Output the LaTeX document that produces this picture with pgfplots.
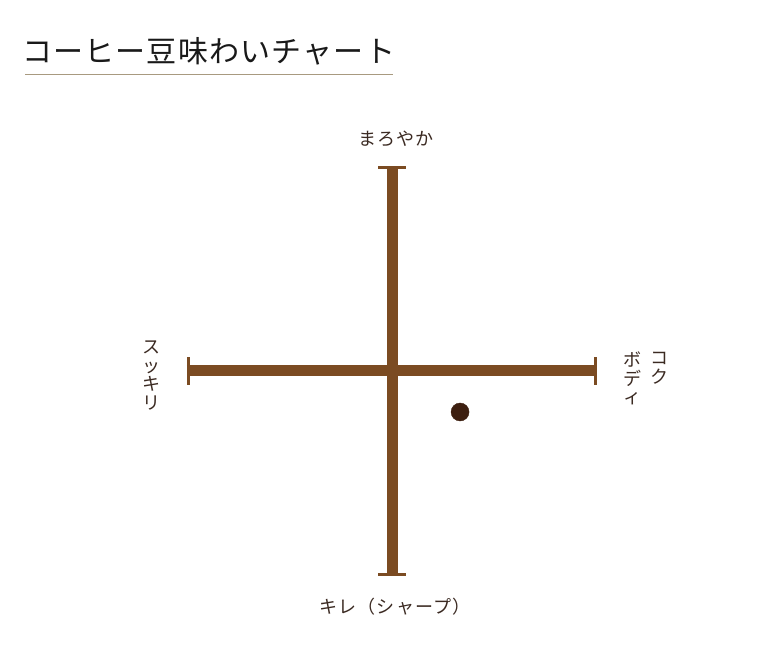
\documentclass[border=0pt]{standalone}
\usepackage{pgfplots}
\pgfplotsset{compat=1.18}
\usepackage{fontspec}
\newfontfamily\jp{Noto Sans CJK JP}
\newfontfamily\jpsp{Noto Sans CJK JP}[LetterSpace=7]
\newfontfamily\jptitle{Noto Sans CJK JP}[LetterSpace=4]
\definecolor{bean}{HTML}{7B4B22}
\definecolor{dot}{HTML}{3D1F10}
\definecolor{lbl}{HTML}{3B2A22}
\definecolor{rule}{HTML}{A89A80}
\begin{document}
\begin{tikzpicture}[x=1pt,y=1pt]
\fill[white] (0,0) rectangle (782,671);
% title
\node[anchor=west, inner sep=0pt, font=\jptitle\fontsize{30}{32}\selectfont, text=black!90] at (22,620) {コーヒー豆味わいチャート};
\draw[rule, line width=1pt] (25,596) -- (393,596);
\begin{axis}[
  at={(392pt,300pt)}, anchor=center,
  width=410pt, height=410pt, scale only axis,
  xmin=-5, xmax=5, ymin=-5, ymax=5,
  hide axis, clip=false,
]
\addplot[bean, line width=11pt, line cap=butt] coordinates {(-5,0) (5,0)};
\addplot[bean, line width=11pt, line cap=butt] coordinates {(0,-5) (0,5)};
\addplot[bean, line width=3pt] coordinates {(-0.34,4.965) (0.34,4.965)};
\addplot[bean, line width=3pt] coordinates {(-0.34,-4.965) (0.34,-4.965)};
\addplot[bean, line width=3pt] coordinates {(-4.965,-0.34) (-4.965,0.34)};
\addplot[bean, line width=3pt] coordinates {(4.965,-0.34) (4.965,0.34)};
\addplot[only marks, mark=*, mark size=9pt, color=dot] coordinates {(1.66,-1.0)};
\end{axis}
% axis labels
\node[inner sep=0pt, font=\jpsp\fontsize{18}{20}\selectfont, text=lbl] at (396,532) {まろやか};
\node[inner sep=0pt, font=\jpsp\fontsize{18}{20}\selectfont, text=lbl] at (395,64) {キレ（シャープ）};
\node[inner sep=0pt, anchor=north, align=center, font=\jp\fontsize{18}{18.5}\selectfont, text=lbl] at (151,330) {ス\\ッ\\キ\\リ};
\node[inner sep=0pt, anchor=north, align=center, font=\jp\fontsize{18}{18.5}\selectfont, text=lbl] at (659,319) {コ\\ク};
\node[inner sep=0pt, anchor=north, align=center, font=\jp\fontsize{18}{18.5}\selectfont, text=lbl] at (632,319) {ボ\\デ\\ィ};
\end{tikzpicture}
\end{document}
